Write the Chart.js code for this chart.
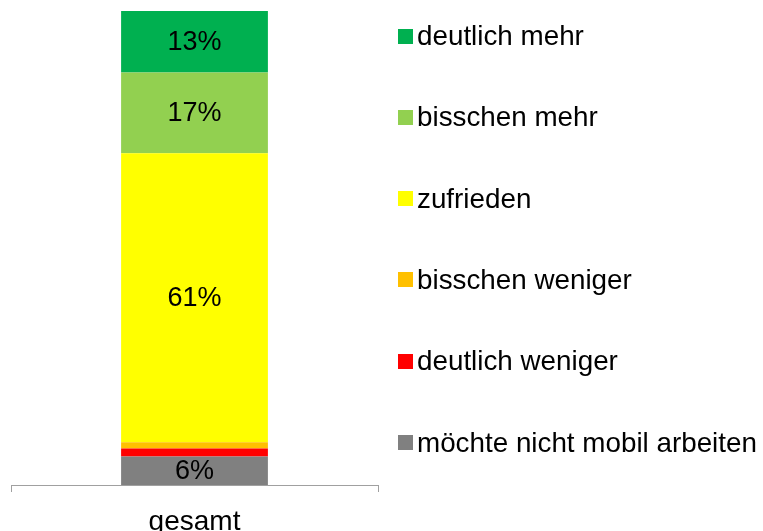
<!DOCTYPE html>
<html>
<head>
<meta charset="utf-8">
<script src="https://cdn.jsdelivr.net/npm/chart.js@4"></script>
<style>
    body { margin: 0; background: #fff; overflow: hidden; }
    #wrap { position: relative; width: 763px; height: 531px; overflow: hidden; }
    #legend { position: absolute; left: 398px; top: 0; font-family: "Liberation Sans", Arial, sans-serif; font-size: 27.8px; color: #000; }
    .item { position: absolute; left: 0; white-space: nowrap; display: flex; align-items: center; height: 32px; }
    .box { width: 15px; height: 15px; margin-right: 4px; }
</style>
</head>
<body>
<div id="wrap">
    <canvas id="chart" width="763" height="531"></canvas>
    <div id="legend"></div>
</div>
<script>
const categories = ['gesamt'];
// stacked from bottom to top
const seriesNames = ['möchte nicht mobil arbeiten', 'deutlich weniger', 'bisschen weniger', 'zufrieden', 'bisschen mehr', 'deutlich mehr'];
const seriesValues = [6, 1.7, 1.3, 61, 17, 13];
const seriesColors = ['#808080', '#FF0000', '#FFC000', '#FFFF00', '#92D050', '#00B050'];
const minLabelValue = 5;

const font = '"Liberation Sans", Arial, sans-serif';

// Legend, top item is the top segment
const legend = document.getElementById('legend');
seriesNames.slice().reverse().forEach((name, i) => {
    const idx = seriesNames.length - 1 - i;
    const div = document.createElement('div');
    div.className = 'item';
    div.style.top = (20 + i * 81.3) + 'px';
    div.innerHTML = `<span class="box" style="background:${seriesColors[idx]}"></span><span>${name}</span>`;
    legend.appendChild(div);
});

// Percentage labels in the middle of each segment
const segmentLabels = {
    id: 'segmentLabels',
    afterDatasetsDraw(chart) {
        const ctx = chart.ctx;
        ctx.save();
        ctx.font = '27px ' + font;
        ctx.fillStyle = '#000';
        ctx.textAlign = 'center';
        ctx.textBaseline = 'middle';
        chart.data.datasets.forEach((ds, i) => {
            const v = ds.data[0];
            if (v < minLabelValue) return;
            const bar = chart.getDatasetMeta(i).data[0];
            const yMid = (bar.y + bar.base) / 2;
            ctx.fillText(Math.round(v) + '%', bar.x, yMid + 1);
        });
        ctx.restore();
    }
};

new Chart(document.getElementById('chart'), {
    type: 'bar',
    data: {
        labels: categories,
        datasets: seriesNames.map((name, i) => ({
            label: name,
            data: [seriesValues[i]],
            backgroundColor: seriesColors[i],
            borderWidth: 0,
            categoryPercentage: 1,
            barPercentage: 0.4
        }))
    },
    options: {
        responsive: false,
        animation: false,
        layout: { padding: { left: 11, right: 385, top: 11, bottom: 0 } },
        plugins: {
            legend: { display: false },
            tooltip: { enabled: false }
        },
        scales: {
            x: {
                stacked: true,
                afterFit: (scale) => { scale.height = 46; },
                grid: { display: true, drawOnChartArea: false, drawTicks: true, tickLength: 7, color: '#a0a0a0', offset: true },
                border: { display: true, color: '#a0a0a0', width: 1 },
                ticks: { color: '#000', font: { family: font, size: 28 }, padding: 13 }
            },
            y: {
                stacked: true,
                min: 0,
                max: 100,
                display: false
            }
        }
    },
    plugins: [segmentLabels]
});
</script>
</body>
</html>
